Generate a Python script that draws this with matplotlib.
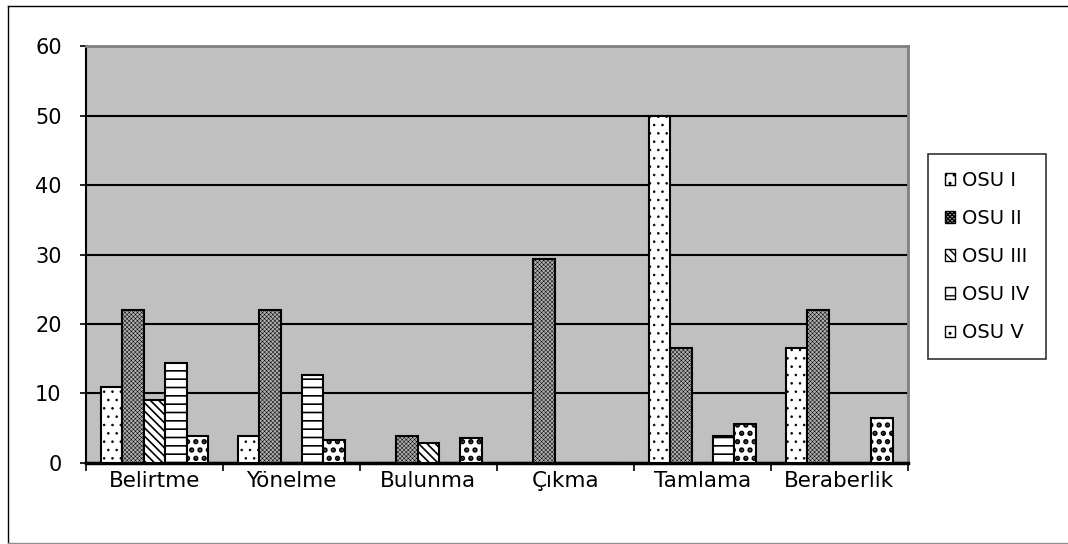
import numpy as np
import matplotlib
matplotlib.use("Agg")
from matplotlib import pyplot as plt
from matplotlib.lines import Line2D

plt.rcParams["font.family"] = ["DejaVu Sans"]

categories = ["Belirtme", "Yönelme", "Bulunma", "Çıkma", "Tamlama", "Beraberlik"]
series_names = ["OSU I", "OSU II", "OSU III", "OSU IV", "OSU V"]
osu_1 = [11, 3.9, 0, 0, 50, 16.6]
osu_2 = [22, 22, 3.9, 29.3, 16.6, 22]
osu_3 = [9, 0, 2.8, 0, 0, 0]
osu_4 = [14.4, 12.6, 0, 0, 3.9, 0]
osu_5 = [3.9, 3.3, 3.6, 0, 5.6, 6.5]
series = [osu_1, osu_2, osu_3, osu_4, osu_5]

# fill / hatch per series (black & white print style)
styles = [
    dict(facecolor="white", hatch="..", hlw=0.6),
    dict(facecolor="#b0b0b0", hatch="xxxxxxxx", hlw=0.35),
    dict(facecolor="white", hatch="\\\\\\\\", hlw=1.2),
    dict(facecolor="white", hatch="--", hlw=1.2),
    dict(facecolor="white", hatch="..", hlw=2.6),
]

fig = plt.figure(figsize=(10.68, 5.44), dpi=100)

# outer chart frame (open on the right side)
frame = dict(transform=fig.transFigure, color="black", linewidth=1.0)
fig.add_artist(Line2D([0.0075, 1.0], [0.989, 0.989], **frame))
fig.add_artist(Line2D([0.0075, 0.0075], [0.002, 0.989], **frame))
fig.add_artist(Line2D([0.0075, 1.0], [0.002, 0.002], color="#909090",
                      linewidth=1.0, transform=fig.transFigure))

ax = fig.add_axes([0.0805, 0.149, 0.7695, 0.766])
ax.set_facecolor("#c0c0c0")

x = np.arange(len(categories))
width = 0.156
for i, (name, vals, st) in enumerate(zip(series_names, series, styles)):
    with plt.rc_context({"hatch.linewidth": st["hlw"]}):
        ax.bar(x + (i - 2) * width, vals, width, label=name,
               facecolor=st["facecolor"], hatch=st["hatch"],
               edgecolor="black", linewidth=1.5, zorder=3)

ax.set_ylim(0, 60)
ax.set_xlim(-0.5, len(categories) - 0.5)
ax.set_yticks(range(0, 61, 10))
ax.yaxis.grid(True, color="black", linewidth=1.5, zorder=1)
ax.set_axisbelow(True)

ax.set_xticks(x)
ax.set_xticklabels(categories, fontsize=15.5)
ax.tick_params(axis="x", length=0, pad=6)
ax.set_xticks(np.arange(-0.5, len(categories), 1), minor=True)
ax.tick_params(axis="x", which="minor", length=5.5, width=1.2, direction="out")
ax.tick_params(axis="y", labelsize=15, length=4.5, width=1.2, direction="out", pad=13)

for side in ["top", "right"]:
    ax.spines[side].set_color("#808080")
    ax.spines[side].set_linewidth(2.0)
ax.spines["left"].set_linewidth(1.5)
ax.spines["bottom"].set_linewidth(2.5)

leg = fig.legend(loc="upper left", bbox_to_anchor=(0.869, 0.716), fontsize=14,
                 frameon=True, fancybox=False, edgecolor="black",
                 handlelength=0.55, handleheight=0.55, handletextpad=0.35,
                 labelspacing=0.98, borderpad=0.85, borderaxespad=0.0)
leg.get_frame().set_linewidth(1.2)
for h in leg.legend_handles:
    h.set_linewidth(1.0)

fig.savefig("out.png", dpi=100)
